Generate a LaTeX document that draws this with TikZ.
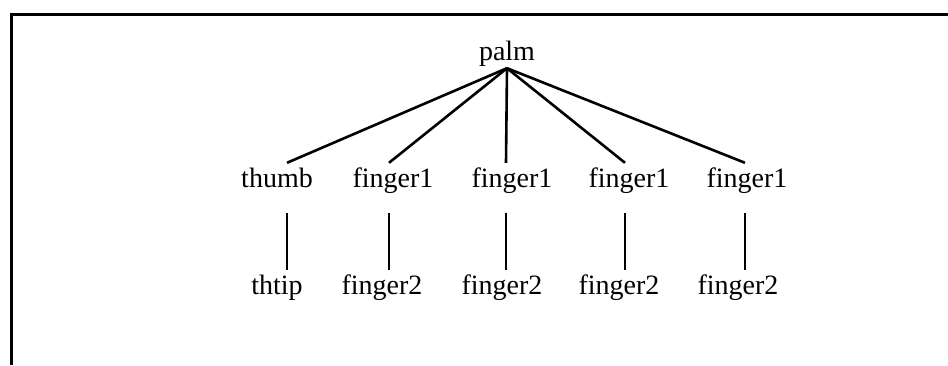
\documentclass[tikz,border=0pt]{standalone}
\usepackage{fontspec}
\setmainfont{Liberation Serif}
\begin{document}
\begin{tikzpicture}[x=1pt,y=-1pt,
  lbl/.style={anchor=base,inner xsep=2pt,inner ysep=5pt,text height=19pt,text depth=6pt,font=\fontsize{28}{30}\selectfont},
  edge/.style={line width=2.6pt},
  vedge/.style={line width=2pt,shorten <=15pt},
  frame/.style={line width=3pt}]
\useasboundingbox (0,0) rectangle (948,365);
\coordinate (fc) at (11.5,14.5);
\coordinate (fr) at (948,14.5);
\coordinate (fb) at (11.5,365);
\draw[frame] (fr) -- (fc) -- (fb);
% nodes
\node[lbl] (palm) at (507,60) {palm};
\node[lbl] (thumb) at (277,187) {thumb};
\node[lbl] (fa) at (393,187) {finger1};
\node[lbl] (fb1) at (512,187) {finger1};
\node[lbl] (fc1) at (629,187) {finger1};
\node[lbl] (fd) at (747,187) {finger1};
\node[lbl] (thtip) at (277,294) {thtip};
\node[lbl] (ga) at (382,294) {finger2};
\node[lbl] (gb) at (502,294) {finger2};
\node[lbl] (gc) at (619,294) {finger2};
\node[lbl] (gd) at (738,294) {finger2};
% palm edges
\draw[edge] ([yshift=3pt]palm.south) -- ([xshift=10pt]thumb.north);
\draw[edge] ([yshift=3pt]palm.south) -- ([xshift=-4pt]fa.north);
\draw[edge] ([yshift=3pt]palm.south) -- ([xshift=-6pt]fb1.north);
\draw[edge] ([yshift=3pt]palm.south) -- ([xshift=-4pt]fc1.north);
\draw[edge] ([yshift=3pt]palm.south) -- ([xshift=-2pt]fd.north);
% vertical edges
\draw[vedge] ([xshift=10pt]thumb.south) -- ([xshift=10pt]thumb.south |- thtip.north);
\draw[vedge] ([xshift=-4pt]fa.south) -- ([xshift=-4pt]fa.south |- ga.north);
\draw[vedge] ([xshift=-6pt]fb1.south) -- ([xshift=-6pt]fb1.south |- gb.north);
\draw[vedge] ([xshift=-4pt]fc1.south) -- ([xshift=-4pt]fc1.south |- gc.north);
\draw[vedge] ([xshift=-2pt]fd.south) -- ([xshift=-2pt]fd.south |- gd.north);
\end{tikzpicture}
\end{document}
